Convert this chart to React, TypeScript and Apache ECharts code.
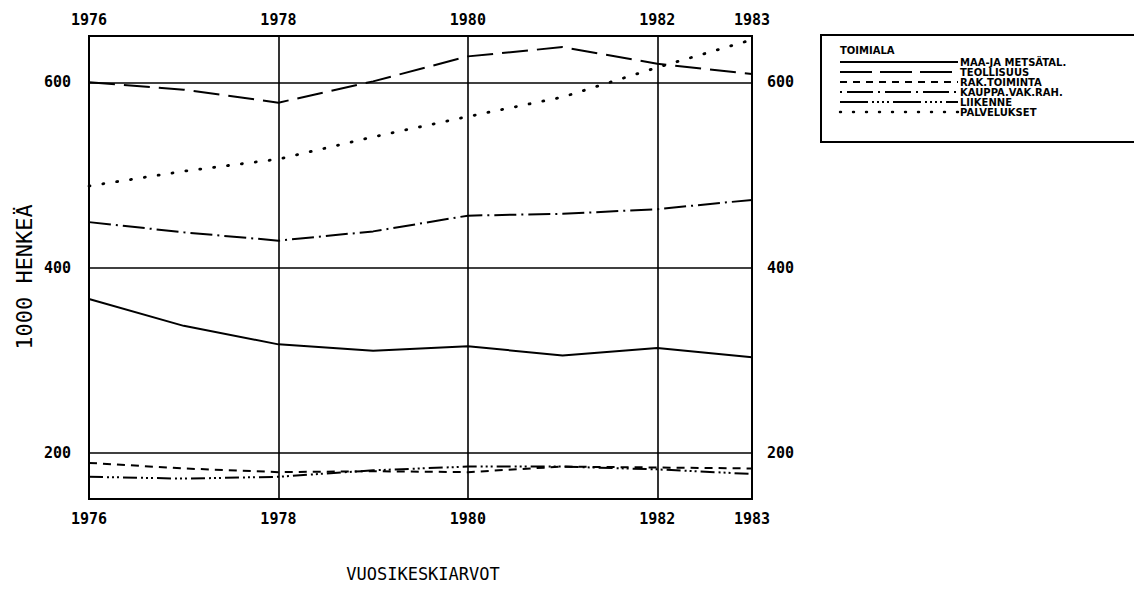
import React, { useEffect, useRef } from "react";
import * as echarts from "echarts";

const years = ["1976", "1977", "1978", "1979", "1980", "1981", "1982", "1983"];
const shownYears = ["1976", "1978", "1980", "1982", "1983"];
const gridYears = ["1978", "1980", "1982"];
const yTicks = [200, 400, 600];

const seriesNames = [
  "MAA-JA METSÄTAL.",
  "TEOLLISUUS",
  "RAK.TOIMINTA",
  "KAUPPA.VAK.RAH.",
  "LIIKENNE",
  "PALVELUKSET",
];

const maaJaMetsatal = [366, 337, 317, 310, 315, 305, 313, 303];
const teollisuus = [600, 592, 578, 601, 628, 638, 620, 609];
const rakToiminta = [189, 183, 179, 180, 179, 185, 184, 183];
const kauppa = [449, 438, 429, 439, 456, 458, 463, 473];
const liikenne = [174, 172, 174, 181, 185, 185, 182, 177];
const palvelukset = [488, 504, 517, 541, 563, 584, 616, 646];

const seriesValues = [maaJaMetsatal, teollisuus, rakToiminta, kauppa, liikenne, palvelukset];

// line styles (main chart dash, legend dash)
const mainDash: (number[] | null)[] = [
  null,
  [26, 9],
  [8, 6],
  [22, 5, 2, 5],
  [14, 4, 2, 3, 2, 3, 2, 4],
  [1, 13],
];
const legendDash: (number[] | null)[] = [
  null,
  [32, 8],
  [7, 6],
  [2, 5, 26, 5],
  [28, 4, 2, 3, 2, 3, 2, 3, 2, 4],
  [1, 12],
];

const FONT = "'DejaVu Sans Mono', monospace";
const LEG_FONT = "'DejaVu Sans', sans-serif";

export default function App() {
  const ref = useRef<HTMLDivElement>(null);

  useEffect(() => {
    if (!ref.current) return;
    const chart = echarts.init(ref.current, null, { renderer: "svg" });

    const labelStyle = {
      fontFamily: FONT,
      fontSize: 15,
      fontWeight: "bold" as const,
      color: "#000",
    };

    const series = seriesValues.map((vals, i) => ({
      name: seriesNames[i],
      type: "line",
      data: vals,
      xAxisIndex: 0,
      yAxisIndex: 0,
      symbol: "none",
      lineStyle: {
        color: "#000",
        width: i === 5 ? 2.8 : 2,
        type: mainDash[i] ? mainDash[i] : "solid",
        cap: i === 5 ? "round" : "butt",
      },
      z: 3,
      ...(i === 0
        ? {
            markLine: {
              silent: true,
              symbol: ["none", "none"],
              label: { show: false },
              lineStyle: { color: "#000", width: 1.6, type: "solid" },
              data: yTicks.map((v) => ({ yAxis: v })),
              z: 2,
            },
          }
        : {}),
    }));

    const legendX0 = 840;
    const legendX1 = 958;
    const legendY0 = 62;
    const legendStep = 10;

    const legendGraphics: any[] = [
      {
        type: "rect",
        shape: { x: 821, y: 35, width: 330, height: 107 },
        style: { fill: "none", stroke: "#000", lineWidth: 2 },
      },
      {
        type: "text",
        x: legendX0,
        y: 50,
        style: {
          text: "TOIMIALA",
          font: `bold 10px ${LEG_FONT}`,
          lineHeight: 10,
          fill: "#000",
          verticalAlign: "middle",
        },
      },
    ];
    seriesNames.forEach((name, i) => {
      const y = legendY0 + i * legendStep;
      legendGraphics.push({
        type: "line",
        shape: { x1: legendX0, y1: y, x2: legendX1, y2: y },
        style: {
          stroke: "#000",
          lineWidth: i === 5 ? 2.4 : 1.8,
          lineDash: legendDash[i] || undefined,
          lineCap: i === 5 ? "round" : "butt",
        },
      });
      legendGraphics.push({
        type: "text",
        x: legendX1 + 2,
        y: y,
        style: {
          text: name,
          font: `bold 10px ${LEG_FONT}`,
          lineHeight: 9,
          fill: "#000",
          verticalAlign: "middle",
        },
      });
    });

    chart.setOption({
      animation: false,
      backgroundColor: "#fff",
      grid: {
        left: 89,
        right: 1134 - 752,
        top: 36,
        bottom: 600 - 499,
        show: true,
        borderColor: "#000",
        borderWidth: 2,
        backgroundColor: "transparent",
      },
      xAxis: [
        {
          type: "category",
          data: years,
          boundaryGap: false,
          position: "bottom",
          axisLine: { show: false },
          axisTick: { show: false },
          axisLabel: {
            ...labelStyle,
            margin: 12,
            interval: (_i: number, v: string) => shownYears.includes(v),
          },
          splitLine: {
            show: true,
            interval: (_i: number, v: string) => gridYears.includes(v),
            lineStyle: { color: "#000", width: 1.6 },
          },
        },
        {
          type: "category",
          data: years,
          boundaryGap: false,
          position: "top",
          axisLine: { show: false },
          axisTick: { show: false },
          axisLabel: {
            ...labelStyle,
            margin: 9,
            interval: (_i: number, v: string) => shownYears.includes(v),
          },
          splitLine: { show: false },
        },
      ],
      yAxis: [
        {
          type: "value",
          min: 150,
          max: 650,
          interval: 50,
          position: "left",
          axisLine: { show: false },
          axisTick: { show: false },
          splitLine: { show: false },
          axisLabel: {
            ...labelStyle,
            margin: 18,
            formatter: (v: number) => (yTicks.includes(v) ? String(v) : ""),
          },
        },
        {
          type: "value",
          min: 150,
          max: 650,
          interval: 50,
          position: "right",
          axisLine: { show: false },
          axisTick: { show: false },
          splitLine: { show: false },
          axisLabel: {
            ...labelStyle,
            margin: 15,
            formatter: (v: number) => (yTicks.includes(v) ? String(v) : ""),
          },
        },
      ],
      series,
      graphic: [
        ...legendGraphics,
        {
          type: "text",
          x: 24,
          y: 277,
          rotation: Math.PI / 2,
          style: {
            text: "1000 HENKEÄ",
            font: `22px ${FONT}`,
            fill: "#000",
            align: "center",
            verticalAlign: "middle",
          },
        },
        {
          type: "text",
          x: 423,
          y: 574,
          style: {
            text: "VUOSIKESKIARVOT",
            font: `17px ${FONT}`,
            fill: "#000",
            align: "center",
            verticalAlign: "middle",
          },
        },
      ],
    });

    return () => chart.dispose();
  }, []);

  return (
    <div
      ref={ref}
      style={{ position: "absolute", left: 0, top: 0, width: 1134, height: 600 }}
    />
  );
}
